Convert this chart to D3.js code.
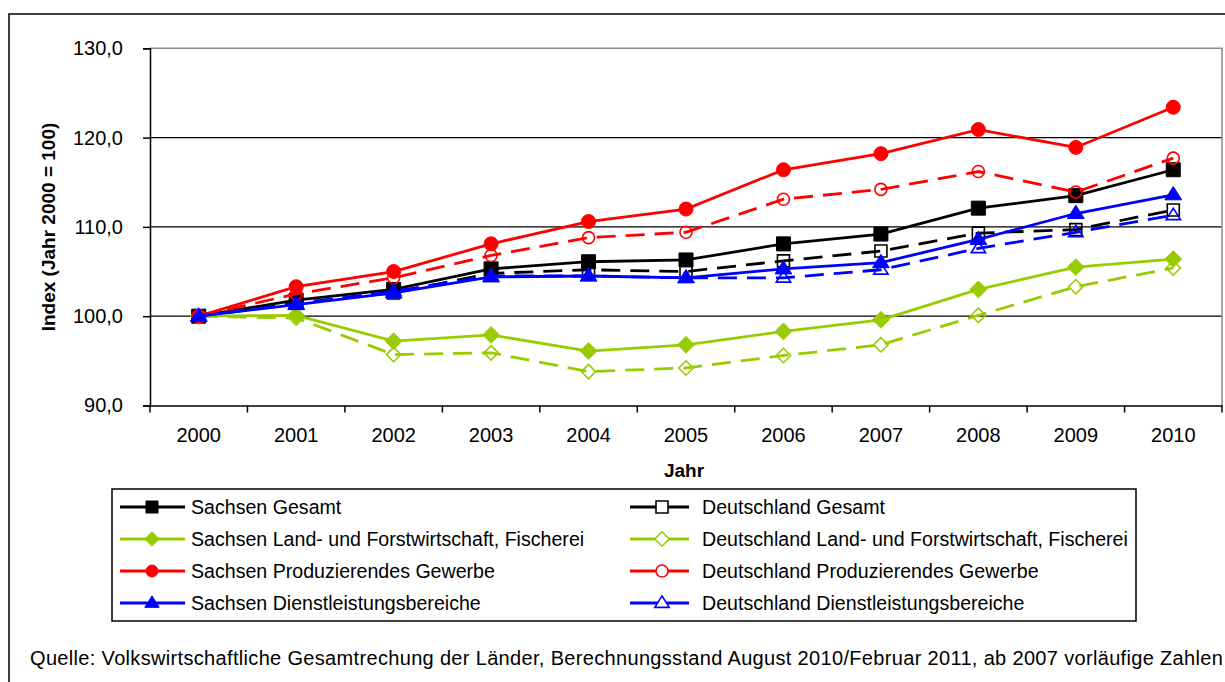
<!DOCTYPE html>
<html lang="de">
<head>
<meta charset="UTF-8">
<title>Index Sachsen / Deutschland</title>
<style>
    body { margin: 0; background: #fff; }
    svg { display: block; font-family: "Liberation Sans", Arial, sans-serif; }
</style>
</head>
<body>
<svg width="1225" height="682"></svg>
<script src="https://d3js.org/d3.v7.min.js"></script>
<script>
// Daten (Index, Jahr 2000 = 100)
const years = ["2000","2001","2002","2003","2004","2005","2006","2007","2008","2009","2010"];
const yTicks = [90, 100, 110, 120, 130];

const sachsenGesamt     = [100, 101.8, 103.0, 105.3, 106.1, 106.3, 108.1, 109.2, 112.1, 113.5, 116.4];
const deutschlandGesamt = [100, 101.5, 102.6, 104.8, 105.2, 105.0, 106.2, 107.3, 109.3, 109.7, 111.9];
const sachsenLand       = [100, 100.1, 97.2, 97.9, 96.1, 96.8, 98.3, 99.6, 103.0, 105.5, 106.4];
const deutschlandLand   = [100, 99.8, 95.7, 95.9, 93.8, 94.2, 95.6, 96.8, 100.1, 103.3, 105.4];
const sachsenProd       = [100, 103.3, 105.0, 108.1, 110.6, 112.0, 116.4, 118.2, 120.9, 118.9, 123.4];
const deutschlandProd   = [100, 102.5, 104.3, 106.8, 108.8, 109.4, 113.1, 114.2, 116.2, 113.9, 117.7];
const sachsenDienst     = [100, 101.3, 102.6, 104.4, 104.5, 104.3, 105.3, 106.0, 108.6, 111.5, 113.6];
const deutschlandDienst = [100, 101.4, 102.8, 104.5, 104.5, 104.3, 104.3, 105.2, 107.6, 109.4, 111.3];

const series = [
    {name: "Sachsen Gesamt", values: sachsenGesamt, color: "#000000", sym: "square", open: false},
    {name: "Deutschland Gesamt", values: deutschlandGesamt, color: "#000000", sym: "square", open: true},
    {name: "Sachsen Land- und Forstwirtschaft, Fischerei", values: sachsenLand, color: "#99CC00", sym: "diamond", open: false},
    {name: "Deutschland Land- und Forstwirtschaft, Fischerei", values: deutschlandLand, color: "#99CC00", sym: "diamond", open: true},
    {name: "Sachsen Produzierendes Gewerbe", values: sachsenProd, color: "#FF0000", sym: "circle", open: false},
    {name: "Deutschland Produzierendes Gewerbe", values: deutschlandProd, color: "#FF0000", sym: "circle", open: true},
    {name: "Sachsen Dienstleistungsbereiche", values: sachsenDienst, color: "#0000FF", sym: "triangle", open: false},
    {name: "Deutschland Dienstleistungsbereiche", values: deutschlandDienst, color: "#0000FF", sym: "triangle", open: true}
];

const svg = d3.select("svg");
const plotLeft = 150, plotRight = 1222, plotTop = 48.3, plotBottom = 405.5;

const x = d3.scaleBand().domain(years).range([plotLeft, plotRight]);
const y = d3.scaleLinear().domain([90, 130]).range([plotBottom, plotTop]);
const cx = d => x(d) + x.bandwidth() / 2;

// Rahmen
svg.append("rect")
    .attr("x", 9).attr("y", 14).attr("width", 1240).attr("height", 700)
    .attr("fill", "none").attr("stroke", "#000").attr("stroke-width", 1.5);

// Gitternetz
svg.append("g").selectAll("line")
    .data(yTicks.filter(v => v > 90 && v < 130))
    .enter().append("line")
    .attr("x1", plotLeft).attr("x2", plotRight)
    .attr("y1", d => y(d)).attr("y2", d => y(d))
    .attr("stroke", "#000").attr("stroke-width", 1.2);

// Zeichnungsfläche oben/rechts grau
svg.append("path")
    .attr("d", `M${plotLeft},${y(130)}H${plotRight}V${plotBottom}`)
    .attr("fill", "none").attr("stroke", "#8c8c8c").attr("stroke-width", 1.5);

// Achsen
const yAxis = svg.append("g")
    .attr("transform", `translate(${plotLeft},0)`)
    .call(d3.axisLeft(y).tickValues(yTicks).tickSize(7).tickPadding(20)
        .tickFormat(d => d3.format(".1f")(d).replace(".", ",")));
yAxis.select(".domain").attr("stroke-width", 1.5);
yAxis.selectAll(".tick line").attr("stroke-width", 1.5);
yAxis.selectAll("text").style("font-size", "20px").attr("fill", "#000");

const xAxis = svg.append("g")
    .attr("transform", `translate(0,${plotBottom})`)
    .call(d3.axisBottom(x).tickSize(0).tickPadding(22));
xAxis.select(".domain").attr("stroke-width", 1.5);
xAxis.selectAll("text").style("font-size", "20px").attr("fill", "#000");
// Teilstriche zwischen den Kategorien
xAxis.selectAll(".sep")
    .data(years.concat(["end"]))
    .enter().append("line")
    .attr("x1", (d, i) => plotLeft + i * x.step())
    .attr("x2", (d, i) => plotLeft + i * x.step())
    .attr("y1", 0).attr("y2", 7)
    .attr("stroke", "#000").attr("stroke-width", 1.5);

// Achsentitel
svg.append("text")
    .attr("x", 684).attr("y", 477)
    .attr("text-anchor", "middle")
    .style("font-size", "19px").style("font-weight", "bold")
    .text("Jahr");

svg.append("text")
    .attr("transform", "translate(55,227) rotate(-90)")
    .attr("text-anchor", "middle")
    .style("font-size", "19px").style("font-weight", "bold")
    .text("Index (Jahr 2000 = 100)");

// Symbole
function symbolPath(sym, size) {
    if (sym === "square") return d3.symbol(d3.symbolSquare, size * size)();
    if (sym === "circle") return d3.symbol(d3.symbolCircle, Math.PI * size * size / 4)();
    if (sym === "diamond") {
        const h = size / 2 * 1.2;
        return `M0,${-h}L${h},0L0,${h}L${-h},0Z`;
    }
    const h = size * 0.95, w = size * 0.6;
    return `M0,${-h * 0.62}L${w},${h * 0.38}L${-w},${h * 0.38}Z`;
}

const line = d3.line().x((d, i) => cx(years[i])).y(d => y(d));

series.forEach(s => {
    const g = svg.append("g");
    g.append("path")
        .datum(s.values)
        .attr("d", line)
        .attr("fill", "none")
        .attr("stroke", s.color)
        .attr("stroke-width", 2.8)
        .attr("stroke-dasharray", s.open ? "19,10" : null);
    g.selectAll("path.m")
        .data(s.values)
        .enter().append("path")
        .attr("class", "m")
        .attr("transform", (d, i) => `translate(${cx(years[i])},${y(d)})`)
        .attr("d", symbolPath(s.sym, s.open ? 12 : 14))
        .attr("fill", s.open ? "none" : s.color)
        .attr("stroke", s.color)
        .attr("stroke-width", s.open ? 1.6 : 1);
});

// Legende
svg.append("rect")
    .attr("x", 112).attr("y", 489).attr("width", 1024).attr("height", 132)
    .attr("fill", "#fff").attr("stroke", "#000").attr("stroke-width", 1.5);

series.forEach((s, i) => {
    const col = i % 2, row = Math.floor(i / 2);
    const lx = col === 0 ? 120 : 630;
    const len = col === 0 ? 65 : 59;
    const ly = 507 + row * 32;
    const g = svg.append("g");
    g.append("line")
        .attr("x1", lx).attr("x2", lx + len).attr("y1", ly).attr("y2", ly)
        .attr("stroke", s.color).attr("stroke-width", 3);
    g.append("path")
        .attr("transform", `translate(${lx + 32},${ly})`)
        .attr("d", symbolPath(s.sym, 12))
        .attr("fill", s.open ? "#fff" : s.color)
        .attr("stroke", s.color)
        .attr("stroke-width", s.open ? 1.6 : 1);
    g.append("text")
        .attr("x", col === 0 ? 191 : 702).attr("y", ly + 7)
        .style("font-size", "19.6px")
        .text(s.name);
});

// Quelle
svg.append("text")
    .attr("x", 30).attr("y", 665)
    .style("font-size", "20px")
    .style("letter-spacing", "0.33px")
    .text("Quelle: Volkswirtschaftliche Gesamtrechung der Länder, Berechnungsstand August 2010/Februar 2011, ab 2007 vorläufige Zahlen");
</script>
</body>
</html>
